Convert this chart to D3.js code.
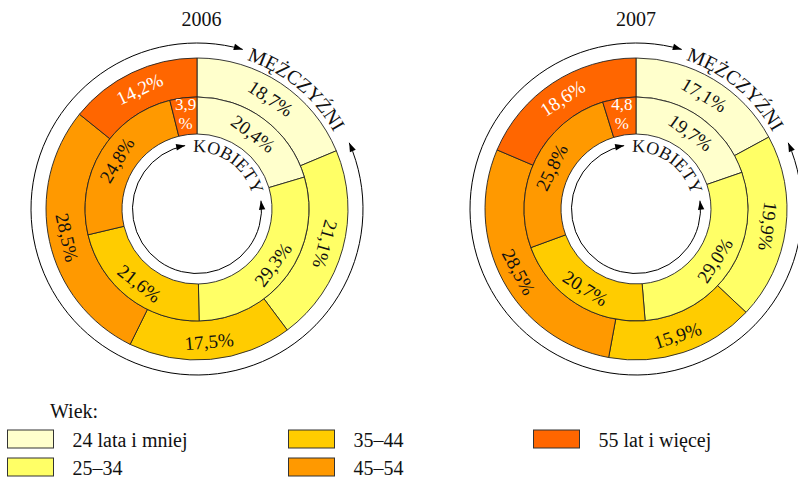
<!DOCTYPE html>
<html>
<head>
<meta charset="utf-8">
<script src="https://cdn.jsdelivr.net/npm/d3@7"></script>
<style>
  html, body { margin: 0; padding: 0; background: #fff; }
  svg, svg text { font-family: "Liberation Serif", "Times New Roman", "Tinos", "DejaVu Serif", "Noto Serif", "FreeSerif", serif; }
</style>
</head>
<body>
<script>
// ---- data ----
const ageGroups = ["24 lata i mniej", "25–34", "35–44", "45–54", "55 lat i więcej"];
const ageColors = ["#FFFFCC", "#FFFF66", "#FFCC00", "#FF9900", "#FF6600"];
const years = ["2006", "2007"];
const men2006 = [18.7, 21.1, 17.5, 28.5, 14.2];
const women2006 = [20.4, 29.3, 21.6, 24.8, 3.9];
const men2007 = [17.1, 19.9, 15.9, 28.5, 18.6];
const women2007 = [19.7, 29.0, 20.7, 25.8, 4.8];
const menLabel = "MĘŻCZYŹNI";
const womenLabel = "KOBIETY";
const legendTitle = "Wiek:";

// ---- layout ----
const W = 798, H = 478;
const cy = 209;
const rHole = 75, rMid = 112, rOuter = 151;
const charts = [
  { year: years[0], men: men2006, women: women2006, cx: 197, tx: 201.5 },
  { year: years[1], men: men2007, women: women2007, cx: 636, tx: 636 }
];

const svg = d3.select("body").append("svg")
  .attr("width", W).attr("height", H);
svg.append("rect").attr("width", W).attr("height", H).attr("fill", "#fff");

const color = d3.scaleOrdinal().domain(d3.range(ageGroups.length)).range(ageColors);
const pie = d3.pie().sort(null).value(d => d).startAngle(0).endAngle(2 * Math.PI);
const fmt = v => v.toFixed(1).replace(".", ",");
const deg = r => r * 180 / Math.PI;

function arrowHead(g, r, thetaDeg, sign) {
  const t = thetaDeg * Math.PI / 180;
  const tip = [r * Math.sin(t), -r * Math.cos(t)];
  const d = [Math.cos(t) * sign, Math.sin(t) * sign];
  const n = [-d[1], d[0]];
  const L = 9, w = 3.2;
  const b = [tip[0] - L * d[0], tip[1] - L * d[1]];
  const pts = [tip, [b[0] + w * n[0], b[1] + w * n[1]], [b[0] - w * n[0], b[1] - w * n[1]]];
  g.append("path").attr("d", "M" + pts.map(p => p.join(",")).join("L") + "Z").attr("fill", "#000");
}

function arrowArc(g, r, a0, a1) {
  const toRad = d => (d - 90) * Math.PI / 180;
  const p = d3.path();
  p.arc(0, 0, r, toRad(a0), toRad(a1), false);
  g.append("path").attr("d", p.toString()).attr("fill", "none")
    .attr("stroke", "#000").attr("stroke-width", 1);
  arrowHead(g, r, a1, 1);
  arrowHead(g, r, a0, -1);
}

function textArc(g, id, r, a0, a1, txt, size) {
  const toRad = d => (d - 90) * Math.PI / 180;
  const p = d3.path();
  p.arc(0, 0, r, toRad(a0), toRad(a1), false);
  g.append("path").attr("id", id).attr("d", p.toString()).attr("fill", "none");
  g.append("text").attr("font-size", size).attr("fill", "#111")
    .append("textPath").attr("href", "#" + id).text(txt);
}

function drawRing(g, values, rIn, rOut, labelR) {
  const arcs = pie(values);
  const arc = d3.arc().innerRadius(rIn).outerRadius(rOut);
  g.selectAll(null).data(arcs).enter().append("path")
    .attr("d", arc)
    .attr("fill", (d, i) => color(i))
    .attr("stroke", "#222").attr("stroke-width", 0.9);
  arcs.forEach((d, i) => {
    const m = (d.startAngle + d.endAngle) / 2;
    const x = labelR * Math.sin(m), y = -labelR * Math.cos(m);
    const fill = i === 4 ? "#fff" : "#111";
    if (d.value < 6) {
      const t = g.append("text").attr("font-size", 17).attr("fill", fill)
        .attr("text-anchor", "middle");
      t.append("tspan").attr("x", x).attr("y", y - 6).text(fmt(d.value));
      t.append("tspan").attr("x", x).attr("y", y + 13).text("%");
    } else {
      let rot = deg(m);
      if (rot > 110 && rot < 290) rot -= 180;
      g.append("text").attr("font-size", 19).attr("fill", fill)
        .attr("text-anchor", "middle").attr("dy", "0.35em")
        .attr("transform", `translate(${x},${y}) rotate(${rot})`)
        .text(fmt(d.value) + "%");
    }
  });
}

charts.forEach((c, ci) => {
  svg.append("text").attr("x", c.tx).attr("y", 26).attr("text-anchor", "middle")
    .attr("font-size", 20).attr("fill", "#111").text(c.year);
  const g = svg.append("g").attr("transform", `translate(${c.cx},${cy})`);
  drawRing(g, c.men, rMid, rOuter, 133);
  drawRing(g, c.women, rHole, rMid, 94);
  arrowArc(g, 166, 66.5, 376);
  arrowArc(g, 64.5, 82.6, 349.4);
  textArc(g, "men" + ci, 157, 18.5, 110, menLabel, 20);
  textArc(g, "women" + ci, 57, -4, 100, womenLabel, 18);
});

// ---- legend ----
svg.append("text").attr("x", 50).attr("y", 418).attr("font-size", 20)
  .attr("fill", "#111").text(legendTitle);
const colX = [7.5, 288.5, 533.5];
const rowY = [430, 458];
ageGroups.forEach((name, i) => {
  const col = Math.floor(i / 2), row = i % 2;
  const x = colX[col], y = rowY[row];
  svg.append("rect").attr("x", x).attr("y", y).attr("width", 46).attr("height", 18)
    .attr("fill", color(i)).attr("stroke", "#333").attr("stroke-width", 1);
  svg.append("text").attr("x", x + 65).attr("y", y + 17).attr("font-size", 20)
    .attr("fill", "#111").text(name);
});
</script>
</body>
</html>
